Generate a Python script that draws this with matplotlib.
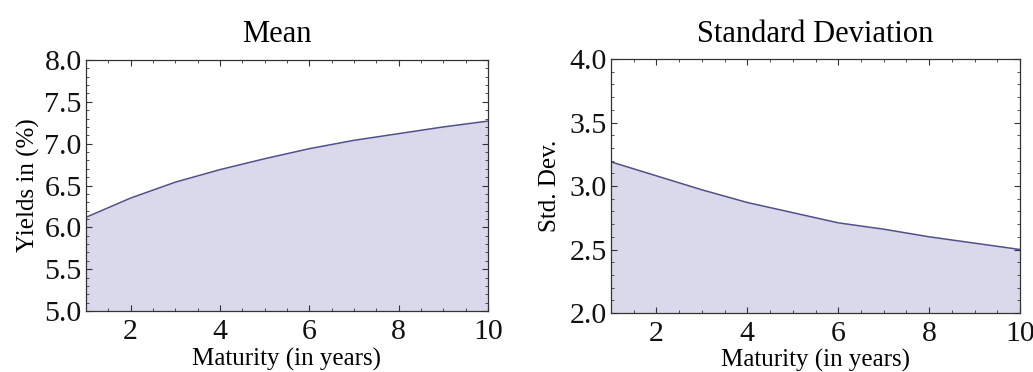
import matplotlib
matplotlib.use("Agg")
import matplotlib.pyplot as plt
from matplotlib.ticker import MultipleLocator

# Term-structure statistics by maturity
maturity = [1, 2, 3, 4, 5, 6, 7, 8, 9, 10]
mean_yield = [6.12, 6.35, 6.54, 6.69, 6.82, 6.94, 7.04, 7.12, 7.20, 7.27]
std_dev = [3.19, 3.08, 2.97, 2.87, 2.79, 2.71, 2.66, 2.60, 2.55, 2.50]

LINE = "#50508a"
FILL = "#d9d9eb"
SPINE = "#333333"

plt.rcParams["font.family"] = ["Liberation Serif", "DejaVu Serif"]

fig = plt.figure(figsize=(10.33, 3.72), dpi=100)


def style_axes(ax, ylo, yhi, ymajor, yminor):
    ax.set_xlim(1, 10)
    ax.set_ylim(ylo, yhi)
    ax.xaxis.set_major_locator(MultipleLocator(2))
    ax.xaxis.set_minor_locator(MultipleLocator(0.5))
    ax.yaxis.set_major_locator(MultipleLocator(ymajor))
    ax.yaxis.set_minor_locator(MultipleLocator(yminor))
    ax.yaxis.set_major_formatter(plt.FuncFormatter(lambda v, p: f"{v:.1f}"))
    ax.tick_params(which="both", direction="in", top=True, right=True,
                   colors=SPINE, labelcolor="#111111", labelsize=21.5)
    ax.tick_params(which="major", length=4.5, width=0.8)
    ax.tick_params(which="minor", length=2.2, width=0.6)
    ax.tick_params(axis="x", which="major", pad=6)
    ax.tick_params(axis="y", which="major", pad=3)
    for s in ax.spines.values():
        s.set_color(SPINE)
        s.set_linewidth(0.9)


def draw_panel(ax, x, y, ylo):
    ax.fill_between(x, y, ylo, color=FILL, linewidth=0)
    ax.plot(x, y, color=LINE, linewidth=1.1)


ax1 = fig.add_axes([86 / 1033, 61 / 372, 402 / 1033, 251 / 372])
draw_panel(ax1, maturity, mean_yield, 5.0)
style_axes(ax1, 5.0, 8.0, 0.5, 0.1)
ax1.set_title("Mean", fontsize=22, pad=13, x=0.475)
ax1.set_xlabel("Maturity (in years)", fontsize=18, labelpad=2)
ax1.set_ylabel("Yields in (%)", fontsize=18, labelpad=3)

ax2 = fig.add_axes([611 / 1033, 59 / 372, 409 / 1033, 254 / 372])
draw_panel(ax2, maturity, std_dev, 2.0)
style_axes(ax2, 2.0, 4.0, 0.5, 0.1)
ax2.set_title("Standard Deviation", fontsize=22, pad=12)
ax2.set_xlabel("Maturity (in years)", fontsize=18, labelpad=1)
ax2.set_ylabel("Std. Dev.", fontsize=18, labelpad=6)

fig.savefig("out.png", dpi=100, facecolor="white")
